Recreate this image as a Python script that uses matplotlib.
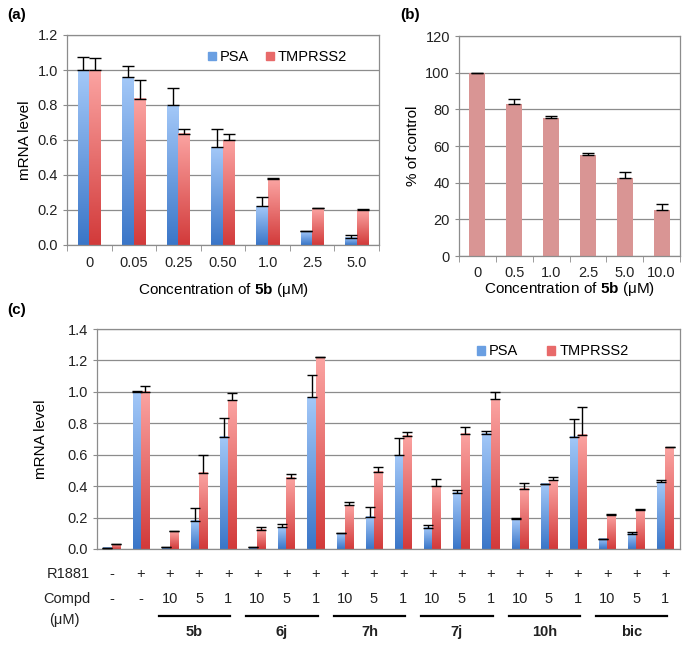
import numpy as np
import matplotlib
matplotlib.use('Agg')
import matplotlib.pyplot as plt
from matplotlib.colors import LinearSegmentedColormap
from matplotlib.patches import Patch
from matplotlib.transforms import blended_transform_factory

plt.rcParams['font.family'] = ['Liberation Sans', 'DejaVu Sans']
plt.rcParams['mathtext.fontset'] = 'custom'
plt.rcParams['mathtext.rm'] = 'Liberation Sans'
plt.rcParams['mathtext.bf'] = 'Liberation Sans:bold'
plt.rcParams['mathtext.it'] = 'Liberation Sans:italic'

# (a) mRNA vs concentration of 5b
conc_a = ['0', '0.05', '0.25', '0.50', '1.0', '2.5', '5.0']
psa_a = [1.00, 0.96, 0.80, 0.56, 0.22, 0.078, 0.042]
psa_a_err = [0.075, 0.065, 0.10, 0.10, 0.053, 0.003, 0.013]
tmp_a = [1.00, 0.835, 0.635, 0.60, 0.375, 0.21, 0.198]
tmp_a_err = [0.067, 0.11, 0.025, 0.036, 0.01, 0.002, 0.008]

# (b) % of control
conc_b = ['0', '0.5', '1.0', '2.5', '5.0', '10.0']
ctrl_b = [99.6, 83.0, 75.1, 55.1, 42.8, 25.0]
ctrl_b_err = [0.3, 2.6, 1.1, 0.9, 3.1, 3.3]

# (c) compounds
r1881 = ['-'] + ['+'] * 19
compd = ['-', '-'] + ['10', '5', '1'] * 6
groups = ['5b', '6j', '7h', '7j', '10h', 'bic']
psa_c = [0.008, 1.0, 0.01, 0.18, 0.713, 0.01, 0.14, 0.967, 0.10, 0.204,
         0.598, 0.136, 0.358, 0.732, 0.189, 0.414, 0.715, 0.064, 0.098, 0.424]
psa_c_err = [0.0, 0.006, 0.003, 0.079, 0.123, 0.002, 0.021, 0.143, 0.003, 0.066,
             0.111, 0.017, 0.017, 0.017, 0.008, 0.002, 0.114, 0.002, 0.01, 0.015]
tmp_c = [0.03, 1.0, 0.113, 0.486, 0.948, 0.123, 0.452, 1.22, 0.278, 0.492,
         0.72, 0.40, 0.732, 0.952, 0.384, 0.439, 0.728, 0.218, 0.25, 0.647]
tmp_c_err = [0.005, 0.04, 0.004, 0.11, 0.042, 0.015, 0.028, 0.002, 0.022, 0.028,
             0.025, 0.045, 0.044, 0.047, 0.036, 0.019, 0.174, 0.002, 0.005, 0.002]

BLUE = ('#3a76c8', '#a3c8f8')
RED = ('#d23a3a', '#fba4a2')
GRID = '#8c8c8c'
TXT = '#222222'
W, H = 687, 646


def pos(l, r, t, b):
    return [l / W, 1 - b / H, (r - l) / W, (b - t) / H]


def grad_bars(ax, bars, colors):
    cmap = LinearSegmentedColormap.from_list('g', list(colors))
    g = np.linspace(0, 1, 128).reshape(-1, 1)
    for b in bars:
        x0, w, h = b.get_x(), b.get_width(), b.get_height()
        ax.imshow(g, cmap=cmap, extent=(x0, x0 + w, 0, h), origin='lower',
                  aspect='auto', zorder=2, interpolation='bilinear')
        b.set_facecolor('none')


def style(ax):
    ax.set_axisbelow(True)
    ax.yaxis.grid(True, color=GRID, lw=0.9)
    for s in ax.spines.values():
        s.set_color(GRID)
        s.set_linewidth(0.9)
    ax.tick_params(axis='y', length=3, color=GRID, labelsize=10.5, labelcolor=TXT)
    ax.tick_params(axis='x', which='major', length=0, labelcolor=TXT)
    ax.tick_params(axis='x', which='minor', length=4, color=GRID)


def errs(ax, xs, ys, e, cap):
    ax.errorbar(xs, ys, yerr=[np.zeros(len(xs)), e], fmt='none', ecolor='black',
                elinewidth=1.0, capsize=cap, capthick=1.0, zorder=3)


fig = plt.figure(figsize=(W / 100, H / 100), dpi=100)
leg_handles = [Patch(color='#6a9fe2', label='PSA'), Patch(color='#e86a6a', label='TMPRSS2')]

# ---- (a)
ax = fig.add_axes(pos(67, 379, 35, 245))
x = np.arange(len(conc_a))
bw = 0.26
b1 = ax.bar(x - bw / 2, psa_a, bw, zorder=2)
b2 = ax.bar(x + bw / 2, tmp_a, bw, zorder=2)
grad_bars(ax, b1, BLUE)
grad_bars(ax, b2, RED)
errs(ax, x - bw / 2, psa_a, psa_a_err, 4)
errs(ax, x + bw / 2, tmp_a, tmp_a_err, 4)
ax.set_xlim(-0.5, len(x) - 0.5)
ax.set_ylim(0, 1.2)
ax.set_yticks(np.arange(0, 1.21, 0.2))
ax.set_yticklabels([f'{v:.1f}' for v in np.arange(0, 1.21, 0.2)])
ax.set_xticks(x)
ax.set_xticklabels(conc_a, fontsize=10.5)
ax.set_xticks(np.arange(-0.5, len(x), 1), minor=True)
style(ax)
ax.tick_params(axis='x', which='major', pad=8)
ax.set_ylabel('mRNA level', fontsize=11, labelpad=4)
ax.set_xlabel(r'Concentration of $\mathbf{5b}$ (μM)', fontsize=11, labelpad=8)
ax.legend(handles=leg_handles, ncol=2, frameon=False, fontsize=10.5,
          handlelength=0.55, handleheight=0.55, handletextpad=0.3, columnspacing=1.1,
          loc='upper right', bbox_to_anchor=(0.94, 0.99))
fig.text(7 / W, 1 - 15 / H, '(a)', fontsize=11, fontweight='bold', va='center')

# ---- (b)
ax = fig.add_axes(pos(459, 680, 36, 256))
x = np.arange(len(conc_b))
ax.bar(x, ctrl_b, 0.43, color='#d99594', zorder=2)
errs(ax, x, ctrl_b, ctrl_b_err, 4)
ax.set_xlim(-0.5, len(x) - 0.5)
ax.set_ylim(0, 120)
ax.set_yticks(np.arange(0, 121, 20))
ax.set_xticks(x)
ax.set_xticklabels(conc_b, fontsize=10.5)
ax.set_xticks(np.arange(-0.5, len(x), 1), minor=True)
style(ax)
ax.tick_params(axis='x', which='major', pad=7)
ax.set_ylabel('% of control', fontsize=11, labelpad=4)
ax.set_xlabel(r'Concentration of $\mathbf{5b}$ (μM)', fontsize=11, labelpad=0)
fig.text(400 / W, 1 - 15 / H, '(b)', fontsize=11, fontweight='bold', va='center')

# ---- (c)
ax = fig.add_axes(pos(97, 680, 329, 549))
x = np.arange(len(psa_c))
bw = 0.28
b1 = ax.bar(x - bw / 2, psa_c, bw, zorder=2)
b2 = ax.bar(x + bw / 2, tmp_c, bw, zorder=2)
grad_bars(ax, b1, BLUE)
grad_bars(ax, b2, RED)
errs(ax, x - bw / 2, psa_c, psa_c_err, 3.5)
errs(ax, x + bw / 2, tmp_c, tmp_c_err, 3.5)
ax.set_xlim(-0.5, len(x) - 0.5)
ax.set_ylim(0, 1.4)
ax.set_yticks(np.arange(0, 1.41, 0.2))
ax.set_yticklabels([f'{v:.1f}' for v in np.arange(0, 1.41, 0.2)])
ax.set_xticks([])
style(ax)
ax.set_ylabel('mRNA level', fontsize=11, labelpad=14)
ax.legend(handles=leg_handles, ncol=2, frameon=False, fontsize=10.5,
          handlelength=0.55, handleheight=0.55, handletextpad=0.3, columnspacing=2.0,
          loc='upper right', bbox_to_anchor=(0.935, 0.99))
fig.text(7 / W, 1 - 310 / H, '(c)', fontsize=11, fontweight='bold', va='center')

tr = blended_transform_factory(ax.transData, fig.transFigure)
for i in range(len(x)):
    ax.text(i, 1 - 574 / H, r1881[i], transform=tr, ha='center', va='center',
            fontsize=10.5, color=TXT, clip_on=False)
    ax.text(i, 1 - 599 / H, compd[i], transform=tr, ha='center', va='center',
            fontsize=10.5, color=TXT, clip_on=False)
for k, gname in enumerate(groups):
    s = 2 + 3 * k
    x0, x1 = s - 0.38, s + 2 + 0.07
    ax.plot([x0, x1], [1 - 616 / H] * 2, transform=tr, color='black', lw=1.6, clip_on=False)
    ax.text((x0 + x1) / 2, 1 - 632 / H, gname, transform=tr, ha='center', va='center',
            fontsize=10.5, fontweight='bold', color=TXT, clip_on=False)
fig.text(90 / W, 1 - 574 / H, 'R1881', ha='right', va='center', fontsize=10.5, color=TXT)
fig.text(90 / W, 1 - 599 / H, 'Compd', ha='right', va='center', fontsize=10.5, color=TXT)
fig.text(64 / W, 1 - 620 / H, '(μM)', ha='center', va='center', fontsize=10.5, color=TXT)

fig.savefig('out.png', dpi=100)
